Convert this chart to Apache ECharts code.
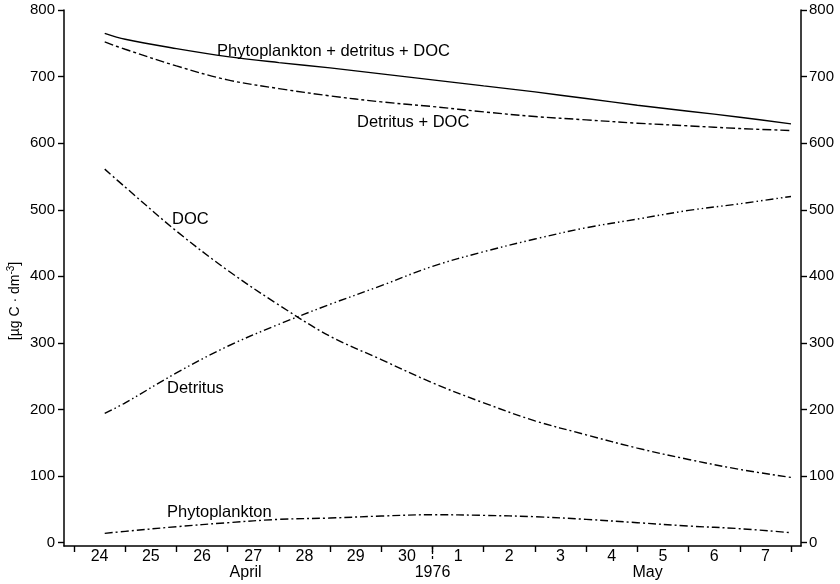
<!DOCTYPE html>
<html>
<head>
<meta charset="utf-8">
<script src="https://cdn.jsdelivr.net/npm/echarts@6/dist/echarts.min.js"></script>
<style>
  html, body { margin: 0; padding: 0; background: #fff; }
  #chart { width: 840px; height: 584px; }
</style>
</head>
<body>
<div id="chart"></div>
<script>
// ---- data (x = days since 24 April 00:00) ----
const days = [0.6, 1, 2, 3, 4, 5, 6, 7, 8, 9, 10, 11, 12, 13, 14];
const total = [765, 756, 742, 730, 721, 713, 704, 695, 686, 677, 667, 657, 648, 639, 629];
const detritusDoc = [752, 741, 716, 695, 682, 671, 662, 655, 647, 640, 635, 630, 626, 622, 619];
const doc = [561, 534, 468, 409, 357, 310, 275, 240, 210, 183, 162, 142, 125, 110, 98];
const detritus = [194, 210, 255, 295, 328, 358, 386, 415, 437, 456, 473, 486, 499, 509, 520];
const phyto = [14, 17, 24, 30, 35, 37, 40, 42, 41, 39, 35, 30, 25, 21, 15];

const dayLabels = ['24', '25', '26', '27', '28', '29', '30', '1', '2', '3', '4', '5', '6', '7'];
const dayBounds = [0, 1, 2, 3, 4, 5, 6, 7, 8, 9, 10, 11, 12, 13, 14];
const dayCenters = [0.5, 1.5, 2.5, 3.5, 4.5, 5.5, 6.5, 7.5, 8.5, 9.5, 10.5, 11.5, 12.5, 13.5];
const monthLabels = ['April', '1976', 'May'];
const monthPos = [3.35, 7.0, 11.2];
const yTicks = [0, 100, 200, 300, 400, 500, 600, 700, 800];

const FONT = 'Liberation Sans';
const INK = '#000';

function pairs(ys) { return days.map((d, i) => [d, ys[i]]); }

function lineSeries(name, ys, type) {
  return {
    name: name,
    type: 'line',
    data: pairs(ys),
    smooth: 0.35,
    symbol: 'none',
    xAxisIndex: 0,
    yAxisIndex: 0,
    lineStyle: { color: INK, width: 1.4, type: type },
    silent: true
  };
}

const chart = echarts.init(document.getElementById('chart'), null, { renderer: 'canvas' });

const yAxisCommon = {
  type: 'value',
  min: -5,
  max: 800,
  splitLine: { show: false },
  axisLine: { show: true, onZero: false, lineStyle: { color: INK, width: 1.5 } },
  axisTick: { show: true, customValues: yTicks, length: 6, lineStyle: { color: INK, width: 1.4 } },
  axisLabel: { customValues: yTicks, fontFamily: FONT, fontSize: 15, color: INK }
};

const option = {
  backgroundColor: '#fff',
  animation: false,
  grid: { left: 64, right: 39, top: 10, bottom: 38, containLabel: false, outerBoundsMode: 'none' },
  xAxis: [
    {
      type: 'value',
      min: -0.195,
      max: 14.195,
      position: 'bottom',
      splitLine: { show: false },
      axisLine: { show: true, onZero: false, lineStyle: { color: INK, width: 1.5 } },
      axisTick: { show: true, customValues: dayBounds, length: 6, lineStyle: { color: INK, width: 1.4 } },
      axisLabel: {
        customValues: dayCenters,
        margin: 3,
        fontFamily: FONT, fontSize: 16, color: INK,
        formatter: function (v) { return dayLabels[Math.floor(v)]; }
      }
    },
    {
      type: 'value',
      min: -0.195,
      max: 14.195,
      position: 'bottom',
      splitLine: { show: false },
      axisLine: { show: false, onZero: false },
      axisTick: { show: true, customValues: [7], length: 14, lineStyle: { color: INK, width: 1.3, type: [3, 2] } },
      axisLabel: {
        customValues: monthPos,
        margin: 19,
        fontFamily: FONT, fontSize: 16, color: INK,
        formatter: function (v) {
          let best = 0;
          for (let i = 1; i < monthPos.length; i++) {
            if (Math.abs(monthPos[i] - v) < Math.abs(monthPos[best] - v)) best = i;
          }
          return monthLabels[best];
        }
      }
    }
  ],
  yAxis: [
    Object.assign({}, yAxisCommon, {
      position: 'left',
      axisLabel: Object.assign({}, yAxisCommon.axisLabel, { margin: 9 }),
      name: '{a|[µg C · dm}{s|-3}{a|]}',
      nameLocation: 'middle',
      nameRotate: 90,
      nameGap: 40,
      nameMoveOverlap: false,
      nameTextStyle: {
        padding: [0, 46, 0, 0],
        rich: {
          a: { fontFamily: FONT, fontSize: 14, color: INK },
          s: { fontFamily: FONT, fontSize: 10, color: INK, verticalAlign: 'top', padding: [0, 0, 8, 0] }
        }
      }
    }),
    Object.assign({}, yAxisCommon, {
      position: 'right',
      axisLabel: Object.assign({}, yAxisCommon.axisLabel, { margin: 8 })
    })
  ],
  series: [
    lineSeries('Phytoplankton + detritus + DOC', total, 'solid'),
    lineSeries('Detritus + DOC', detritusDoc, [9, 3, 3, 3]),
    lineSeries('DOC', doc, [8, 3, 2, 3]),
    lineSeries('Detritus', detritus, [8, 3, 1.5, 3, 1.5, 3]),
    lineSeries('Phytoplankton', phyto, [8, 3, 2, 3])
  ],
  graphic: [
    { type: 'text', left: 217, top: 43, style: { text: 'Phytoplankton + detritus + DOC', font: '16.5px "Liberation Sans"', fill: INK } },
    { type: 'text', left: 357, top: 114, style: { text: 'Detritus + DOC', font: '16.5px "Liberation Sans"', fill: INK } },
    { type: 'text', left: 172, top: 211, style: { text: 'DOC', font: '16.5px "Liberation Sans"', fill: INK } },
    { type: 'text', left: 167, top: 380, style: { text: 'Detritus', font: '16.5px "Liberation Sans"', fill: INK } },
    { type: 'text', left: 167, top: 504, style: { text: 'Phytoplankton', font: '16.5px "Liberation Sans"', fill: INK } }
  ]
};

chart.setOption(option);
</script>
</body>
</html>
